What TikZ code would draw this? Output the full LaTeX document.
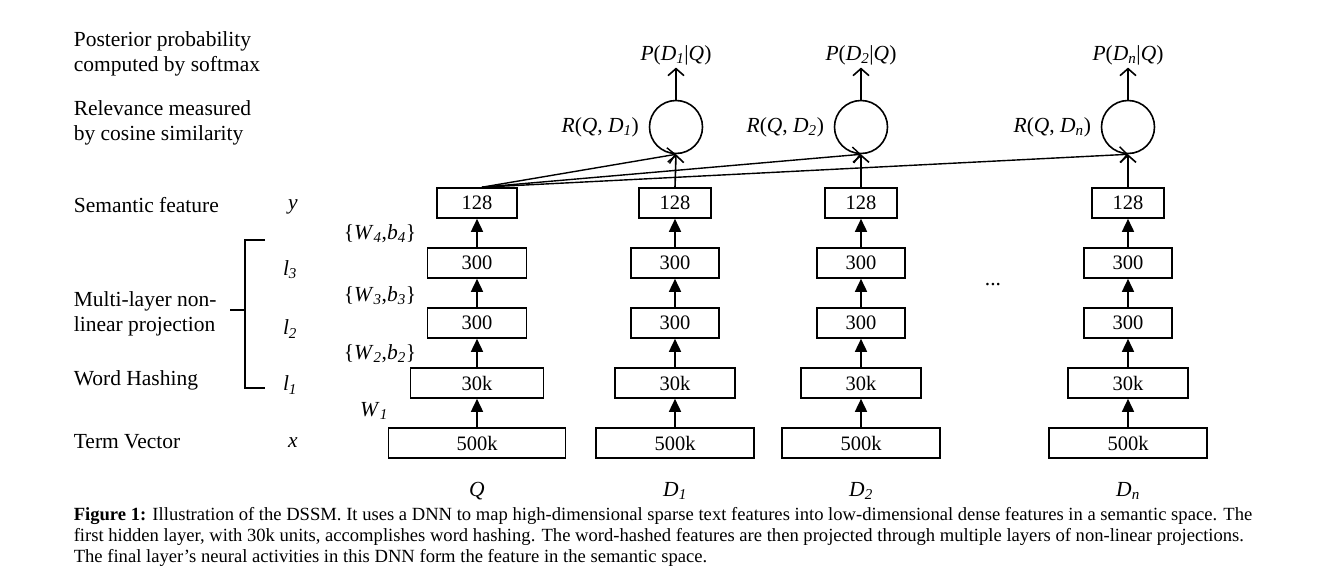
\documentclass[tikz,border=0pt]{standalone}
\usepackage{fontspec}
\setmainfont{Liberation Serif}
\usetikzlibrary{arrows.meta}
\newcommand{\lsub}[1]{\textsubscript{\itshape #1}}
\newcommand{\iv}[1]{\textit{#1}}

\begin{document}
\begin{tikzpicture}
          [x=1pt,y=-1pt,line width=1.6pt,
           every node/.style={font=\fontsize{21.5}{25.5}\selectfont,inner sep=0pt},
           layer/.style={draw,minimum height=30pt,font=\fontsize{20.5}{24}\selectfont},
           sim/.style={circle,draw,minimum size=53pt},
           fwd/.style={-{Triangle[length=13pt,width=12pt]}},
           open/.style={-{Straight Barb[length=7pt,width=16pt]}},
           capline/.style={anchor=west,font=\fontsize{18.6}{21}\selectfont}]
          \useasboundingbox (0,0) rectangle (1329,573);

          % left labels
          \node[anchor=west,align=left] (post) at (73,54) {Posterior probability\\computed by softmax};
          \node[anchor=west,align=left] (rel) at (73,123) {Relevance measured\\by cosine similarity};
          \node[anchor=west] (sem) at (73,205) {Semantic feature};
          \node[anchor=west,align=left] (mlp) at (73,314) {Multi-layer non-\\linear projection};
          \node[anchor=west] (hash) at (73,380) {Word Hashing};
          \node[anchor=west] (term) at (73,442) {Term Vector};

          \node (vy) at (293,207) {\iv{y}};
          \node (vl3) at (290,270) {\iv{l}\lsub{3}};
          \node (vl2) at (290,329) {\iv{l}\lsub{2}};
          \node (vl1) at (290,385) {\iv{l}\lsub{1}};
          \node (vx) at (293,443) {\iv{x}};

          \draw (265,240) -- (245,240) -- (245,388) -- (265,388);
          \draw (230,310) -- (245,310);

          \node (w4) at (380,234) {\{\iv{W}\lsub{4},\iv{b}\lsub{4}\}};
          \node (w3) at (380,296) {\{\iv{W}\lsub{3},\iv{b}\lsub{3}\}};
          \node (w2) at (380,354) {\{\iv{W}\lsub{2},\iv{b}\lsub{2}\}};
          \node (w1) at (374,411) {\iv{W}\lsub{1}};

          % towers
          \foreach \col/\cx/\wbig/\whash/\wmid/\wtop in {q/477/177/133/99/80,d1/675/158/120/88/72,d2/861/158/120/88/72,dn/1128/158/120/88/72}
          {
            \node[layer,minimum width=\wbig pt] (\col x) at (\cx,443) {500k};
            \node[layer,minimum width=\whash pt] (\col l1) at (\cx,383) {30k};
            \node[layer,minimum width=\wmid pt] (\col l2) at (\cx,323) {300};
            \node[layer,minimum width=\wmid pt] (\col l3) at (\cx,263) {300};
            \node[layer,minimum width=\wtop pt] (\col y) at (\cx,203) {128};
          }

          \foreach \c in {q,d1,d2,dn}
            \foreach \from/\to in {x/l1,l1/l2,l2/l3,l3/y}
              \draw[fwd] (\c\from) -- (\c\to);

          \node (nq) at (477,491) {\iv{Q}};
          \node (n1) at (675,491) {\iv{D}\lsub{1}};
          \node (n2) at (861,491) {\iv{D}\lsub{2}};
          \node (nn) at (1128,491) {\iv{D}\lsub{n}};

          \node (dots) at (993,285) {...};

          % relevance and posterior
          \node[sim] (r1) at (676,127) {};
          \node[sim] (r2) at (861,127) {};
          \node[sim] (rn) at (1128,127) {};

          \node[anchor=east] (lr1) at ([xshift=-9pt]r1.west) {\iv{R}(\iv{Q}, \iv{D}\lsub{1})};
          \node[anchor=east] (lr2) at ([xshift=-9pt]r2.west) {\iv{R}(\iv{Q}, \iv{D}\lsub{2})};
          \node[anchor=east] (lrn) at ([xshift=-9pt]rn.west) {\iv{R}(\iv{Q}, \iv{D}\lsub{n})};

          \node (p1) at (676,55) {\iv{P}(\iv{D}\lsub{1}|\iv{Q})};
          \node (p2) at (861,55) {\iv{P}(\iv{D}\lsub{2}|\iv{Q})};
          \node (pn) at (1128,55) {\iv{P}(\iv{D}\lsub{n}|\iv{Q})};

          \foreach \from/\to in {r1/p1,r2/p2,rn/pn}
            \draw[open,shorten >=2pt] (\from.north) -- (\to.south);

          \foreach \from/\to in {d1y/r1,d2y/r2,dny/rn}
            \draw[open] (\from.north) -- (\to.south);

          \foreach \to in {r1,r2,rn}
            \draw[open,line width=1.4pt] ([xshift=5pt]qy.north) -- (\to.south);

          % caption
          \node[capline] (c1) at (73,516) {\textbf{Figure 1:} Illustration of the DSSM. It uses a DNN to map high-dimensional sparse text features into low-dimensional dense features in a semantic space. The};
          \node[capline] (c2) at (73,537) {first hidden layer, with 30k units, accomplishes word hashing. The word-hashed features are then projected through multiple layers of non-linear projections.};
          \node[capline] (c3) at (73,558) {The final layer’s neural activities in this DNN form the feature in the semantic space.};

        \end{tikzpicture}
\end{document}
